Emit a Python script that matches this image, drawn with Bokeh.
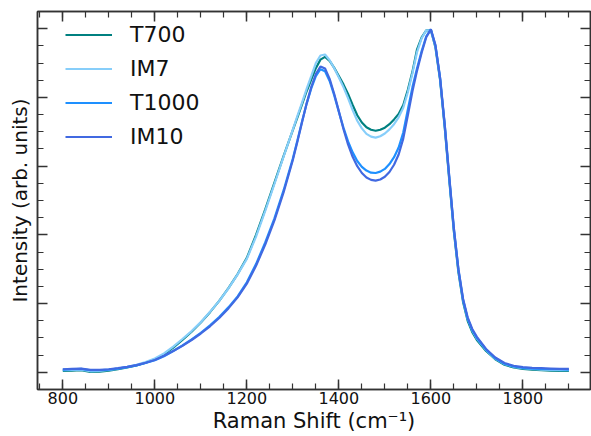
from bokeh.plotting import figure
from bokeh.models import FixedTicker, LinearAxis, Range1d
from bokeh.embed import file_html
from bokeh.resources import INLINE

# ---- data ----
raman_shift = [800, 820, 840, 860, 880, 900, 920, 940, 960, 980, 1000, 1020, 1040, 1060, 1080,
               1100, 1120, 1140, 1160, 1180, 1200, 1220, 1240, 1260, 1280,
               1300, 1310, 1320, 1330, 1340, 1350, 1360, 1370, 1380, 1390, 1400, 1410, 1420, 1430,
               1440, 1450, 1460, 1470, 1480, 1490, 1500, 1510, 1520, 1530, 1540, 1550, 1560, 1570,
               1580, 1590, 1600, 1610, 1620, 1630, 1640, 1650, 1660, 1670, 1680, 1690, 1700,
               1720, 1740, 1760, 1780, 1800, 1820, 1840, 1860, 1880, 1900]

t700 = [0.004, 0.005, 0.006, 0.001, 0.002, 0.005, 0.009, 0.014, 0.020, 0.028, 0.038, 0.052, 0.072, 0.094, 0.118,
        0.145, 0.175, 0.208, 0.245, 0.286, 0.333, 0.400, 0.474, 0.552, 0.630,
        0.705, 0.742, 0.780, 0.818, 0.852, 0.885, 0.910, 0.918, 0.906, 0.886, 0.862, 0.838, 0.810, 0.778,
        0.748, 0.727, 0.713, 0.706, 0.703, 0.706, 0.712, 0.722, 0.736, 0.752, 0.778, 0.822, 0.875, 0.940,
        0.975, 0.995, 0.996, 0.945, 0.852, 0.715, 0.560, 0.410, 0.290, 0.205, 0.150, 0.117, 0.094,
        0.062, 0.038, 0.022, 0.014, 0.010, 0.008, 0.006, 0.005, 0.004, 0.004]

im7 = [0.006, 0.007, 0.008, 0.003, 0.004, 0.007, 0.011, 0.016, 0.022, 0.030, 0.040, 0.055, 0.075, 0.097, 0.120,
       0.146, 0.176, 0.208, 0.244, 0.285, 0.330, 0.395, 0.470, 0.548, 0.628,
       0.706, 0.746, 0.785, 0.825, 0.862, 0.900, 0.922, 0.925, 0.908, 0.885, 0.858, 0.830, 0.798, 0.763,
       0.732, 0.710, 0.694, 0.686, 0.683, 0.687, 0.695, 0.707, 0.722, 0.742, 0.770, 0.815, 0.870, 0.932,
       0.972, 0.995, 0.995, 0.948, 0.858, 0.722, 0.568, 0.418, 0.298, 0.212, 0.156, 0.122, 0.098,
       0.065, 0.040, 0.024, 0.016, 0.012, 0.010, 0.008, 0.007, 0.006, 0.006]

t1000 = [0.008, 0.009, 0.010, 0.006, 0.006, 0.008, 0.011, 0.015, 0.020, 0.027, 0.035, 0.047, 0.062, 0.078, 0.096,
         0.115, 0.137, 0.161, 0.189, 0.221, 0.262, 0.315, 0.378, 0.448, 0.530,
         0.622, 0.675, 0.730, 0.782, 0.826, 0.862, 0.882, 0.876, 0.848, 0.806, 0.758, 0.712, 0.672, 0.640,
         0.615, 0.598, 0.587, 0.581, 0.580, 0.584, 0.592, 0.606, 0.626, 0.654, 0.698, 0.765, 0.830, 0.885,
         0.935, 0.978, 0.998, 0.950, 0.855, 0.720, 0.565, 0.415, 0.296, 0.210, 0.156, 0.123, 0.100,
         0.066, 0.041, 0.025, 0.017, 0.013, 0.011, 0.010, 0.009, 0.009, 0.008]

im10 = [0.009, 0.010, 0.011, 0.007, 0.007, 0.009, 0.012, 0.016, 0.021, 0.028, 0.036, 0.048, 0.062, 0.077, 0.094,
        0.113, 0.134, 0.158, 0.186, 0.218, 0.258, 0.310, 0.372, 0.442, 0.524,
        0.618, 0.672, 0.728, 0.782, 0.830, 0.868, 0.890, 0.884, 0.854, 0.810, 0.760, 0.708, 0.663, 0.627,
        0.600, 0.580, 0.567, 0.560, 0.558, 0.561, 0.569, 0.583, 0.604, 0.634, 0.680, 0.748, 0.818, 0.878,
        0.930, 0.975, 0.998, 0.952, 0.858, 0.724, 0.570, 0.420, 0.300, 0.214, 0.160, 0.126, 0.103,
        0.068, 0.043, 0.027, 0.019, 0.015, 0.013, 0.012, 0.011, 0.010, 0.010]

series_names = ["T700", "IM7", "T1000", "IM10"]
series_values = [t700, im7, t1000, im10]
series_colors = ["#008080", "#87CEFA", "#1E90FF", "#4169E1"]

x_major = [800, 1000, 1200, 1400, 1600, 1800]
x_minor = list(range(750, 1951, 50))
y_major = [0.0, 0.2, 0.4, 0.6, 0.8, 1.0]
y_minor = [round(-0.05 + 0.05 * i, 2) for i in range(23)]

FONT = "DejaVu Sans"
AXIS_COLOR = "#333333"

p = figure(width=591, height=436, output_backend="svg", toolbar_location=None,
           x_range=Range1d(745, 1947), y_range=Range1d(-0.05, 1.05),
           min_border_left=37, min_border_right=1, min_border_top=11, min_border_bottom=47)
p.xgrid.visible = False
p.ygrid.visible = False
p.outline_line_color = AXIS_COLOR
p.outline_line_width = 1.5

for name, vals, col in zip(series_names, series_values, series_colors):
    p.line(raman_shift, vals, line_color=col, line_width=2.2, legend_label=name)

def style_axis(ax, ticks, minor, show_labels):
    ax.ticker = FixedTicker(ticks=ticks, minor_ticks=minor)
    ax.axis_line_color = AXIS_COLOR
    ax.axis_line_width = 1.5
    ax.major_tick_line_color = AXIS_COLOR
    ax.minor_tick_line_color = AXIS_COLOR
    ax.major_tick_line_width = 1.5
    ax.minor_tick_line_width = 1.2
    ax.major_tick_in = 10
    ax.major_tick_out = 0
    ax.minor_tick_in = 6
    ax.minor_tick_out = 0
    if show_labels:
        ax.major_label_text_font = FONT
        ax.major_label_text_font_size = "16px"
        ax.major_label_text_color = "#111111"
        ax.major_label_standoff = 2
    else:
        ax.major_label_text_color = None
        ax.major_label_text_alpha = 0
        ax.major_label_standoff = 0
        ax.axis_label_standoff = 0

xb = p.xaxis[0]
style_axis(xb, x_major, x_minor, True)
xb.axis_label = "Raman Shift (cm⁻¹)"
xb.axis_label_text_font = FONT
xb.axis_label_text_font_size = "21px"
xb.axis_label_text_font_style = "normal"
xb.axis_label_text_color = "#111111"
xb.axis_label_standoff = 2

yl = p.yaxis[0]
style_axis(yl, y_major, y_minor, False)
yl.axis_label = "Intensity (arb. units)"
yl.axis_label_text_font = FONT
yl.axis_label_text_font_size = "20px"
yl.axis_label_text_font_style = "normal"
yl.axis_label_text_color = "#111111"
yl.axis_label_standoff = 6

xt = LinearAxis()
style_axis(xt, x_major, x_minor, False)
p.add_layout(xt, "above")
yr = LinearAxis()
style_axis(yr, y_major, y_minor, False)
p.add_layout(yr, "right")

lg = p.legend[0]
lg.location = (28, 237)
lg.margin = 0
lg.padding = 0
lg.spacing = 3
lg.glyph_height = 31
lg.glyph_width = 47
lg.label_height = 31
lg.label_standoff = 18
lg.label_text_font = FONT
lg.label_text_font_size = "22px"
lg.label_text_color = "#111111"
lg.border_line_alpha = 0
lg.background_fill_alpha = 0

html = file_html(p, INLINE)
html = html.replace("</head>", "<style>html,body{margin:0;padding:0;overflow:hidden;}</style></head>", 1)
open("out.html", "w").write(html)
